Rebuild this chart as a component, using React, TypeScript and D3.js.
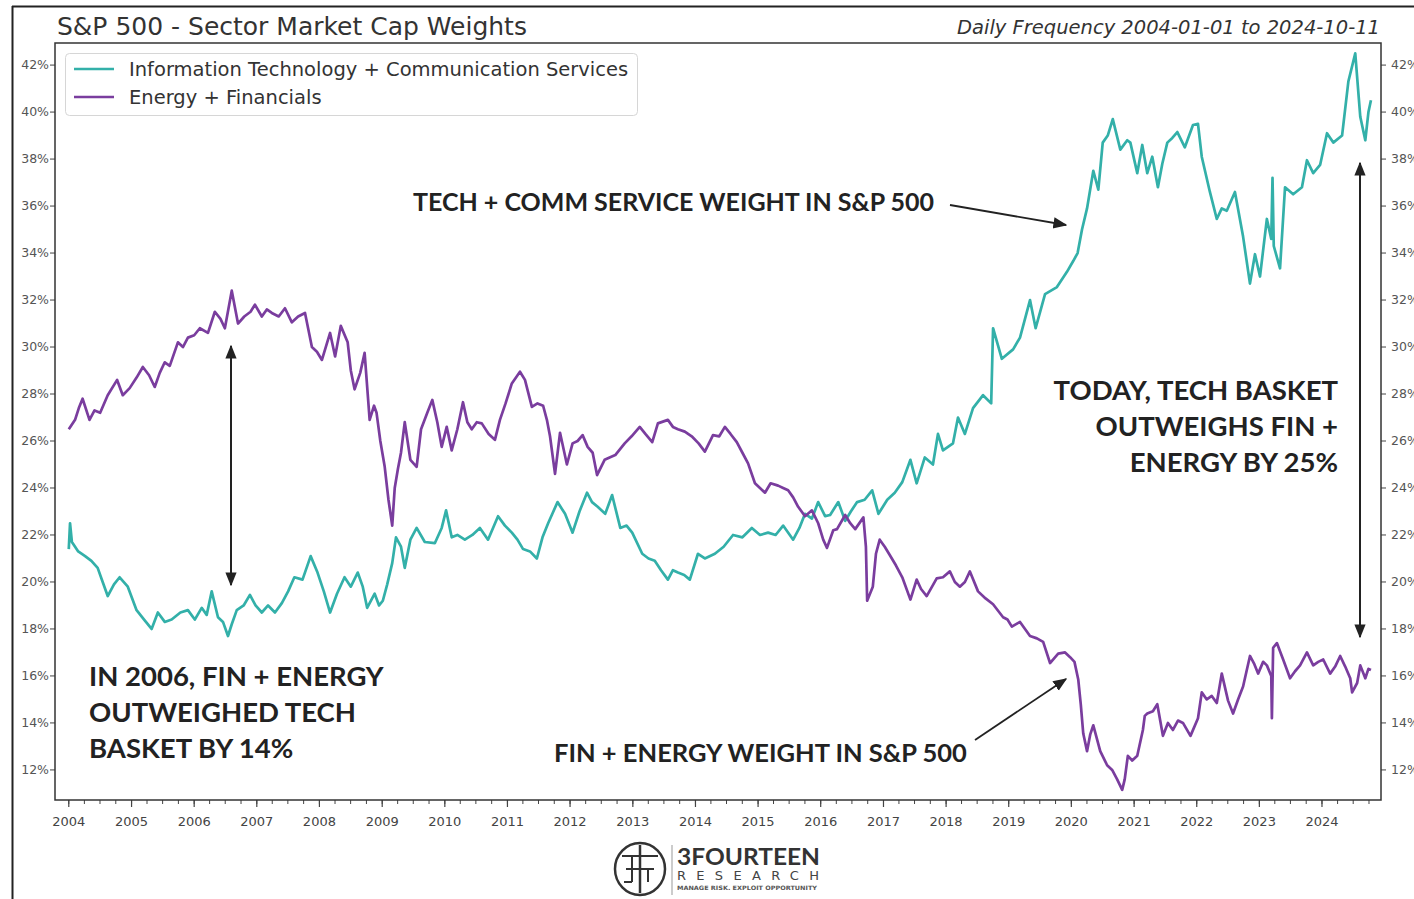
import * as d3 from "d3";

// decimal year, weight in %
const techPoints: [number, number][] = [
  [2004.0, 21.4], [2004.02, 22.5], [2004.05, 21.7], [2004.15, 21.3], [2004.26, 21.1], [2004.36, 20.9], [2004.46, 20.6], [2004.54, 20.0], [2004.62, 19.4], [2004.72, 19.9], [2004.81, 20.2], [2004.94, 19.8],
  [2005.08, 18.8], [2005.2, 18.4], [2005.32, 18.0], [2005.42, 18.7], [2005.53, 18.3], [2005.64, 18.4], [2005.78, 18.7], [2005.9, 18.8],
  [2006.01, 18.4], [2006.12, 18.9], [2006.2, 18.6], [2006.28, 19.6], [2006.38, 18.5], [2006.46, 18.3], [2006.54, 17.7], [2006.6, 18.2], [2006.68, 18.8], [2006.79, 19.0], [2006.89, 19.45], [2006.98, 19.0],
  [2007.08, 18.7], [2007.18, 19.0], [2007.29, 18.7], [2007.4, 19.1], [2007.5, 19.6], [2007.6, 20.2], [2007.73, 20.1], [2007.86, 21.1], [2007.97, 20.4],
  [2008.07, 19.6], [2008.17, 18.7], [2008.28, 19.5], [2008.4, 20.2], [2008.5, 19.8], [2008.61, 20.4], [2008.69, 19.8], [2008.76, 18.9], [2008.88, 19.5], [2008.95, 19.0],
  [2009.01, 19.2], [2009.08, 19.9], [2009.16, 20.8], [2009.22, 21.9], [2009.3, 21.5], [2009.36, 20.6], [2009.45, 21.8], [2009.55, 22.3], [2009.68, 21.7], [2009.84, 21.65], [2009.95, 22.3],
  [2010.02, 23.05], [2010.11, 21.9], [2010.2, 22.0], [2010.32, 21.8], [2010.44, 22.0], [2010.56, 22.3], [2010.69, 21.8], [2010.85, 22.8], [2010.96, 22.4],
  [2011.07, 22.1], [2011.16, 21.8], [2011.25, 21.4], [2011.36, 21.3], [2011.47, 21.0], [2011.56, 21.9], [2011.65, 22.5], [2011.8, 23.4], [2011.92, 22.9],
  [2012.04, 22.1], [2012.15, 23.0], [2012.27, 23.8], [2012.35, 23.4], [2012.44, 23.2], [2012.56, 22.9], [2012.67, 23.7], [2012.8, 22.3], [2012.9, 22.4], [2012.99, 22.1],
  [2013.15, 21.2], [2013.25, 21.0], [2013.35, 20.9], [2013.45, 20.5], [2013.56, 20.1], [2013.64, 20.5], [2013.72, 20.4], [2013.82, 20.3], [2013.91, 20.1],
  [2014.04, 21.2], [2014.15, 21.0], [2014.31, 21.2], [2014.45, 21.5], [2014.6, 22.0], [2014.75, 21.9], [2014.9, 22.3],
  [2015.03, 22.0], [2015.16, 22.1], [2015.28, 22.0], [2015.4, 22.4], [2015.56, 21.8], [2015.66, 22.3], [2015.75, 22.9], [2015.86, 22.7], [2015.96, 23.4],
  [2016.07, 22.8], [2016.15, 22.85], [2016.28, 23.4], [2016.39, 22.6], [2016.48, 23.0], [2016.58, 23.4], [2016.7, 23.5], [2016.82, 23.9], [2016.92, 22.9],
  [2017.06, 23.5], [2017.18, 23.8], [2017.3, 24.25], [2017.43, 25.2], [2017.53, 24.2], [2017.66, 25.3], [2017.79, 25.0], [2017.87, 26.3], [2017.95, 25.6],
  [2018.11, 25.9], [2018.19, 27.0], [2018.3, 26.3], [2018.43, 27.4], [2018.59, 27.95], [2018.72, 27.6], [2018.75, 30.8], [2018.89, 29.5],
  [2019.07, 29.9], [2019.18, 30.4], [2019.34, 32.0], [2019.43, 30.8], [2019.58, 32.25], [2019.77, 32.55], [2019.93, 33.2],
  [2020.03, 33.66], [2020.1, 34.0], [2020.17, 35.0], [2020.25, 35.9], [2020.35, 37.5], [2020.43, 36.7], [2020.5, 38.7], [2020.58, 39.0], [2020.66, 39.7], [2020.78, 38.4], [2020.89, 38.8], [2020.94, 38.7],
  [2021.05, 37.4], [2021.13, 38.6], [2021.21, 37.4], [2021.29, 38.1], [2021.38, 36.8], [2021.45, 37.8], [2021.53, 38.7], [2021.61, 38.9], [2021.69, 39.15], [2021.81, 38.5], [2021.94, 39.45],
  [2022.02, 39.5], [2022.08, 38.1], [2022.21, 36.6], [2022.32, 35.45], [2022.4, 35.9], [2022.48, 35.8], [2022.61, 36.6], [2022.74, 34.7], [2022.85, 32.7], [2022.93, 33.95],
  [2023.01, 33.0], [2023.12, 35.45], [2023.19, 34.6], [2023.21, 37.2], [2023.23, 34.3], [2023.33, 33.35], [2023.41, 36.8], [2023.54, 36.5], [2023.68, 36.8], [2023.76, 37.95], [2023.86, 37.4], [2023.97, 37.75],
  [2024.08, 39.1], [2024.18, 38.7], [2024.32, 39.0], [2024.42, 41.3], [2024.53, 42.5], [2024.61, 39.8], [2024.69, 38.8], [2024.74, 40.0], [2024.78, 40.5],
];

const finPoints: [number, number][] = [
  [2004.0, 26.5], [2004.05, 26.7], [2004.1, 26.9], [2004.16, 27.4], [2004.22, 27.8], [2004.33, 26.9], [2004.41, 27.3], [2004.5, 27.2], [2004.62, 27.95], [2004.77, 28.6], [2004.86, 27.95], [2004.97, 28.25],
  [2005.08, 28.7], [2005.18, 29.15], [2005.28, 28.8], [2005.37, 28.3], [2005.45, 28.9], [2005.53, 29.35], [2005.61, 29.2], [2005.74, 30.2], [2005.82, 30.0], [2005.9, 30.4],
  [2006.0, 30.5], [2006.09, 30.8], [2006.22, 30.6], [2006.33, 31.5], [2006.42, 31.2], [2006.49, 30.8], [2006.6, 32.4], [2006.7, 31.0], [2006.8, 31.3], [2006.9, 31.5], [2006.97, 31.8],
  [2007.08, 31.3], [2007.16, 31.6], [2007.24, 31.45], [2007.35, 31.3], [2007.45, 31.65], [2007.56, 31.05], [2007.66, 31.3], [2007.77, 31.45], [2007.88, 30.0], [2007.96, 29.8],
  [2008.04, 29.45], [2008.17, 30.6], [2008.25, 29.6], [2008.34, 30.9], [2008.45, 30.2], [2008.5, 29.0], [2008.56, 28.2], [2008.65, 28.9], [2008.72, 29.75], [2008.8, 26.9], [2008.87, 27.5], [2008.91, 27.2], [2008.97, 26.0],
  [2009.04, 24.9], [2009.1, 23.5], [2009.16, 22.4], [2009.2, 24.0], [2009.25, 24.8], [2009.3, 25.5], [2009.36, 26.8], [2009.45, 25.2], [2009.55, 24.9], [2009.62, 26.5], [2009.72, 27.2], [2009.8, 27.75], [2009.88, 26.8], [2009.95, 25.75],
  [2010.03, 26.6], [2010.11, 25.6], [2010.2, 26.5], [2010.29, 27.65], [2010.36, 26.8], [2010.43, 26.5], [2010.51, 26.8], [2010.59, 26.75], [2010.7, 26.3], [2010.8, 26.05], [2010.88, 26.9], [2010.97, 27.6],
  [2011.07, 28.45], [2011.2, 28.95], [2011.28, 28.6], [2011.39, 27.45], [2011.48, 27.6], [2011.57, 27.5], [2011.63, 26.9], [2011.68, 26.2], [2011.76, 24.6], [2011.84, 26.35], [2011.95, 25.0],
  [2012.04, 25.9], [2012.12, 26.0], [2012.2, 26.25], [2012.28, 25.75], [2012.36, 25.5], [2012.43, 24.55], [2012.55, 25.2], [2012.63, 25.3], [2012.72, 25.4], [2012.87, 25.9], [2012.98, 26.2],
  [2013.11, 26.6], [2013.2, 26.3], [2013.31, 25.95], [2013.4, 26.75], [2013.56, 26.9], [2013.64, 26.6], [2013.72, 26.5], [2013.83, 26.4], [2013.94, 26.2],
  [2014.05, 25.9], [2014.15, 25.55], [2014.28, 26.25], [2014.38, 26.2], [2014.47, 26.6], [2014.56, 26.3], [2014.66, 25.95], [2014.75, 25.5], [2014.84, 25.05], [2014.95, 24.2],
  [2015.03, 24.0], [2015.11, 23.8], [2015.2, 24.2], [2015.32, 24.1], [2015.4, 24.0], [2015.48, 23.9], [2015.56, 23.6], [2015.64, 23.2], [2015.75, 22.8], [2015.86, 23.05], [2015.96, 22.5],
  [2016.04, 21.8], [2016.1, 21.45], [2016.2, 22.2], [2016.26, 22.25], [2016.39, 22.85], [2016.47, 22.5], [2016.55, 22.25], [2016.68, 22.75], [2016.72, 21.5], [2016.74, 19.2], [2016.83, 19.8], [2016.88, 21.2], [2016.94, 21.8],
  [2017.02, 21.5], [2017.1, 21.15], [2017.2, 20.7], [2017.3, 20.2], [2017.43, 19.25], [2017.53, 20.1], [2017.6, 19.7], [2017.69, 19.4], [2017.85, 20.15], [2017.95, 20.2],
  [2018.06, 20.45], [2018.14, 20.0], [2018.22, 19.8], [2018.3, 20.0], [2018.38, 20.45], [2018.51, 19.6], [2018.63, 19.3], [2018.75, 19.05], [2018.91, 18.5], [2018.98, 18.4],
  [2019.05, 18.1], [2019.18, 18.3], [2019.34, 17.7], [2019.45, 17.6], [2019.55, 17.45], [2019.66, 16.55], [2019.79, 16.95], [2019.9, 17.0], [2019.98, 16.8],
  [2020.05, 16.6], [2020.11, 15.85], [2020.15, 14.8], [2020.19, 13.55], [2020.25, 12.8], [2020.3, 13.5], [2020.35, 13.9], [2020.46, 12.8], [2020.57, 12.2], [2020.65, 12.0], [2020.73, 11.6], [2020.81, 11.15], [2020.85, 11.6], [2020.9, 12.6], [2020.97, 12.4],
  [2021.05, 12.6], [2021.14, 13.7], [2021.17, 14.3], [2021.21, 14.4], [2021.3, 14.5], [2021.37, 14.8], [2021.46, 13.45], [2021.54, 14.0], [2021.62, 13.7], [2021.7, 14.1], [2021.78, 14.0], [2021.9, 13.45],
  [2022.02, 14.2], [2022.08, 15.3], [2022.16, 15.0], [2022.24, 15.15], [2022.32, 14.85], [2022.4, 16.1], [2022.5, 14.95], [2022.58, 14.4], [2022.66, 15.0], [2022.74, 15.55], [2022.85, 16.85], [2022.92, 16.5], [2022.98, 16.1],
  [2023.06, 16.6], [2023.12, 16.45], [2023.19, 16.0], [2023.2, 14.2], [2023.22, 17.2], [2023.28, 17.4], [2023.38, 16.7], [2023.49, 15.9], [2023.57, 16.2], [2023.65, 16.45], [2023.76, 17.0], [2023.86, 16.45], [2023.94, 16.6],
  [2024.02, 16.7], [2024.13, 16.1], [2024.21, 16.4], [2024.29, 16.85], [2024.37, 16.4], [2024.45, 15.9], [2024.48, 15.3], [2024.56, 15.7], [2024.61, 16.45], [2024.69, 15.9], [2024.74, 16.3], [2024.78, 16.25],
];

const seriesNames = ["Information Technology + Communication Services", "Energy + Financials"];
const seriesColors = ["#33b0a9", "#7a3d9e"];
const yTickValues = [12, 14, 16, 18, 20, 22, 24, 26, 28, 30, 32, 34, 36, 38, 40, 42];

const title = "S&P 500 - Sector Market Cap Weights";
const subtitle = "Daily Frequency 2004-01-01 to 2024-10-11";
const leftNote = ["IN 2006, FIN + ENERGY", "OUTWEIGHED TECH", "BASKET BY 14%"];
const rightNote = ["TODAY, TECH BASKET", "OUTWEIGHS FIN +", "ENERGY BY 25%"];

const W = 1414;
const H = 899;
const plot = { left: 55, right: 1381, top: 43, bottom: 800 };

const toDate = (yr: number) => {
  const y = Math.floor(yr);
  const start = Date.UTC(y, 0, 1);
  const end = Date.UTC(y + 1, 0, 1);
  return new Date(start + (yr - y) * (end - start));
};

const x = d3.scaleUtc().domain([toDate(2003.78), toDate(2024.94)]).range([plot.left, plot.right]);
const y = d3.scaleLinear().domain([10.72, 42.94]).range([plot.bottom, plot.top]);

const line = d3
  .line<[number, number]>()
  .x((d) => x(toDate(d[0])))
  .y((d) => y(d[1]));

const annFont = "Lato, 'Open Sans', sans-serif";
const axisFont = "'DejaVu Sans', sans-serif";

const App = () => {
  const years = d3.utcYear.range(toDate(2004), toDate(2025));
  const quarters = d3.utcMonth.every(3)!.range(toDate(2003.78), toDate(2024.94));

  return (
    <svg width={W} height={H} style={{ position: "absolute", left: 0, top: 0, background: "#fff" }}>
      <defs>
        <marker id="ah2" viewBox="0 0 10 10" refX="9" refY="5" markerWidth="14" markerHeight="14" orient="auto-start-reverse" markerUnits="userSpaceOnUse">
          <path d="M0,1 L10,5 L0,9 z" fill="#222" />
        </marker>
        <clipPath id="plotclip">
          <rect x={plot.left} y={plot.top} width={plot.right - plot.left} height={plot.bottom - plot.top} />
        </clipPath>
      </defs>

      {/* outer frame */}
      <line x1={12} x2={W} y1={6.5} y2={6.5} stroke="#222" strokeWidth={2} />
      <line x1={12.5} x2={12.5} y1={6} y2={H} stroke="#222" strokeWidth={2} />

      {/* titles */}
      <text x={57} y={35} fontFamily={axisFont} fontSize={25} fill="#333">{title}</text>
      <text x={1380} y={34} fontFamily={axisFont} fontSize={19.5} fontStyle="italic" fill="#333" textAnchor="end">{subtitle}</text>

      {/* lines */}
      <g clipPath="url(#plotclip)" fill="none" strokeWidth={2.7} strokeLinejoin="round">
        <path d={line(techPoints) ?? ""} stroke={seriesColors[0]} />
        <path d={line(finPoints) ?? ""} stroke={seriesColors[1]} />
      </g>

      {/* y axes */}
      {yTickValues.map((t) => (
        <g key={t}>
          <line x1={plot.left - 5} x2={plot.left} y1={y(t)} y2={y(t)} stroke="#444" strokeWidth={1} />
          <text x={plot.left - 6} y={y(t)} dy="0.35em" textAnchor="end" fontFamily={axisFont} fontSize={12.5} fill="#555">{t}%</text>
          <line x1={plot.right} x2={plot.right + 5} y1={y(t)} y2={y(t)} stroke="#444" strokeWidth={1} />
          <text x={plot.right + 10} y={y(t)} dy="0.35em" fontFamily={axisFont} fontSize={12.5} fill="#555">{t}%</text>
        </g>
      ))}

      {/* x axis */}
      {quarters.map((d, i) => (
        <line key={"q" + i} x1={x(d)} x2={x(d)} y1={plot.bottom} y2={plot.bottom + 4} stroke="#444" strokeWidth={1} />
      ))}
      {years.map((d) => (
        <g key={d.getUTCFullYear()}>
          <line x1={x(d)} x2={x(d)} y1={plot.bottom} y2={plot.bottom + 7} stroke="#444" strokeWidth={1.2} />
          <text x={x(d)} y={plot.bottom + 26} textAnchor="middle" fontFamily={axisFont} fontSize={13} fill="#444">{d.getUTCFullYear()}</text>
        </g>
      ))}

      {/* plot frame */}
      <rect x={plot.left} y={plot.top} width={plot.right - plot.left} height={plot.bottom - plot.top} fill="none" stroke="#333" strokeWidth={1.5} />

      {/* legend */}
      <rect x={65.5} y={53.5} width={572} height={62} rx={4} fill="#fff" fillOpacity={0.85} stroke="#d6d6d6" />
      {seriesNames.map((n, i) => (
        <g key={n}>
          <line x1={74} x2={114} y1={69 + i * 28} y2={69 + i * 28} stroke={seriesColors[i]} strokeWidth={2.6} />
          <text x={129} y={69 + i * 28} dy="0.35em" fontFamily={axisFont} fontSize={19.5} fill="#333">{n}</text>
        </g>
      ))}

      {/* annotations */}
      <g fontFamily={annFont} fontWeight={700} fill="#222">
        <text x={413} y={211} fontSize={25}>TECH + COMM SERVICE WEIGHT IN S&amp;P 500</text>
        <text x={554} y={762} fontSize={25.5}>FIN + ENERGY WEIGHT IN S&amp;P 500</text>
        {leftNote.map((s, i) => (
          <text key={s} x={89} y={686 + i * 36} fontSize={27.5}>{s}</text>
        ))}
        {rightNote.map((s, i) => (
          <text key={s} x={1338} y={400 + i * 36} fontSize={27.5} textAnchor="end">{s}</text>
        ))}
      </g>
      <line x1={950} y1={205} x2={1066} y2={225} stroke="#222" strokeWidth={1.8} markerEnd="url(#ah2)" />
      <line x1={975} y1={740} x2={1066} y2={679} stroke="#222" strokeWidth={1.8} markerEnd="url(#ah2)" />
      <line x1={231} y1={346} x2={231} y2={585} stroke="#222" strokeWidth={2} markerStart="url(#ah2)" markerEnd="url(#ah2)" />
      <line x1={1360} y1={163} x2={1360} y2={637} stroke="#222" strokeWidth={2} markerStart="url(#ah2)" markerEnd="url(#ah2)" />

      {/* logo */}
      <g stroke="#333" fill="none">
        <ellipse cx={640} cy={869} rx={25} ry={26} strokeWidth={2.5} />
        <line x1={640} x2={640} y1={845} y2={893} strokeWidth={2.5} />
        <path d="M622,856 H658 M626,869 H654 M624,882 H632 M648,869 V882 M632,856 V882" strokeWidth={2} />
        <line x1={672} x2={672} y1={845} y2={895} stroke="#999" strokeWidth={1} />
      </g>
      <text x={677} y={865} fontFamily={annFont} fontWeight={700} fontSize={22} fill="#333" textLength={143} lengthAdjust="spacingAndGlyphs">3FOURTEEN</text>
      <text x={677} y={880} fontFamily={axisFont} fontSize={13} fill="#444" textLength={142} lengthAdjust="spacing">RESEARCH</text>
      <text x={677} y={890} fontFamily={axisFont} fontWeight={700} fontSize={6} fill="#555" textLength={140} lengthAdjust="spacingAndGlyphs">MANAGE RISK. EXPLOIT OPPORTUNITY</text>
    </svg>
  );
};

export default App;
